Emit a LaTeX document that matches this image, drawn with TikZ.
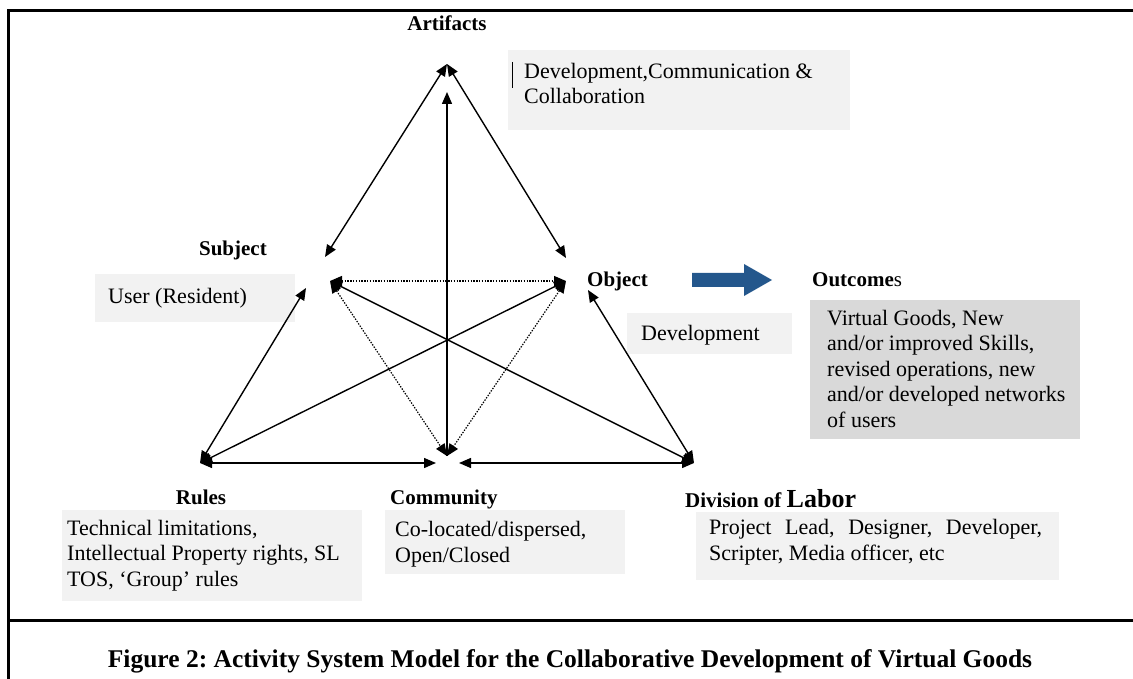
\documentclass[tikz,border=0pt]{standalone}
\usepackage{fontspec}
\setmainfont{Liberation Serif}
\usetikzlibrary{arrows.meta}
\definecolor{panelgray}{HTML}{F2F2F2}
\definecolor{outgray}{HTML}{D9D9D9}
\definecolor{flowblue}{HTML}{24578C}
\frenchspacing
\begin{document}
\begin{tikzpicture}[x=1pt,y=-1pt,
  head/.tip={Triangle[length=12pt,width=10pt]},
  link/.style={line width=1.4pt,{head}-{head}},
  uplink/.style={line width=1.4pt,-{head}},
  dotlink/.style={line width=1.2pt,dash pattern=on 1.4pt off 1.4pt,{head}-{head}},
  lbl/.style={font=\fontsize{21}{24}\selectfont\bfseries,inner sep=0pt},
  txt/.style={font=\fontsize{22}{25.5}\selectfont,inner sep=0pt,align=left,anchor=base west},
  panel/.style={fill=panelgray,draw=none,inner sep=0pt,anchor=north west},
  capt/.style={font=\fontsize{25.5}{30}\selectfont\bfseries,inner sep=0pt,anchor=base},
  frame/.style={line width=3pt}]
\useasboundingbox (0,0) rectangle (1133,679);

% outer frame and caption rule
\draw[frame] (8,679) -- (8,11) -- (1133,11);
\draw[frame] (8,620) -- (1133,620);

% corners of the activity triangle
\coordinate (A) at (447,64);
\coordinate (S) at (330,281);
\coordinate (O) at (566,281);
\coordinate (R) at (200,463);
\coordinate (C) at (447,456);
\coordinate (D) at (694,463);
% arrow ends that stop short of a corner
\coordinate (At) at (447,92);
\coordinate (Sa) at (325,257);
\coordinate (Sr) at (306,288);
\coordinate (Oa) at (566,258);
\coordinate (Od) at (588,290);
\coordinate (Cl) at (436,463);
\coordinate (Cr) at (459,463);

% text panels
\node[panel,minimum width=342pt,minimum height=80pt] (artbox) at (508,50) {};
\node[panel,minimum width=200pt,minimum height=48pt] (subbox) at (95,274) {};
\node[panel,minimum width=165pt,minimum height=41pt] (objbox) at (627,313) {};
\node[panel,fill=outgray,minimum width=270pt,minimum height=139pt] (outbox) at (810,300) {};
\node[panel,minimum width=300pt,minimum height=91pt] (rulbox) at (62,510) {};
\node[panel,minimum width=240pt,minimum height=64pt] (combox) at (385,510) {};
\node[panel,minimum width=363pt,minimum height=68pt] (divbox) at (696,512) {};

% connectors
\draw[link] (A) -- (Sa);
\draw[link] (A) -- (Oa);
\draw[uplink] (C) -- (At);
\draw[dotlink] (S) -- (O);
\draw[dotlink] (S) -- (C);
\draw[dotlink] (O) -- (C);
\draw[link] (R) -- (Sr);
\draw[link] (R) -- (O);
\draw[link] (D) -- (S);
\draw[link] (D) -- (Od);
\draw[link] (R) -- (Cl);
\draw[link] (D) -- (Cr);

% object to outcomes
\fill[flowblue] (692,273) -- (744,273) -- (744,264) -- (772,280) -- (744,296) -- (744,287) -- (692,287) -- cycle;

% corner labels
\node[lbl,anchor=base] (artlbl) at (447,31) {Artifacts};
\node[lbl,anchor=base east] (sublbl) at (267,255) {Subject};
\node[lbl,anchor=base west] (objlbl) at (587,287) {Object};
\node[lbl,anchor=base west,font=\fontsize{21}{24}\selectfont] (outlbl) at (812,287) {\textbf{Outcome}s};
\node[lbl,anchor=base] (rullbl) at (201,504) {Rules};
\node[lbl,anchor=base west] (comlbl) at (390,504) {Community};
\node[lbl,anchor=base west] (divlbl) at (685,507) {Division of {\fontsize{26}{28}\selectfont Labor}};

% panel texts (each anchored on the baseline of its last line)
\draw[line width=1pt] (512,62) -- (512,88);
\node[txt] (arttxt) at (524,104) {Development,Communication \&\\Collaboration};
\node[txt] (subtxt) at (108,303) {User (Resident)};
\node[txt] (objtxt) at (641,340) {Development};
\node[txt] (outtxt) at (827,427) {Virtual Goods, New\\and/or improved Skills,\\revised operations, new\\and/or developed networks\\of users};
\node[txt] (rultxt) at (67,586) {Technical limitations,\\Intellectual Property rights, SL\\TOS, ‘Group’ rules};
\node[txt] (comtxt) at (395,562) {Co-located/dispersed,\\Open/Closed};
\node[txt] (divtxt) at (709,560) {\hbox to 333pt{Project\hfill Lead,\hfill Designer,\hfill Developer,}\\Scripter, Media officer, etc};

% caption
\node[capt] (caption) at (570,667) {Figure 2: Activity System Model for the Collaborative Development of Virtual Goods};
\end{tikzpicture}
\end{document}
